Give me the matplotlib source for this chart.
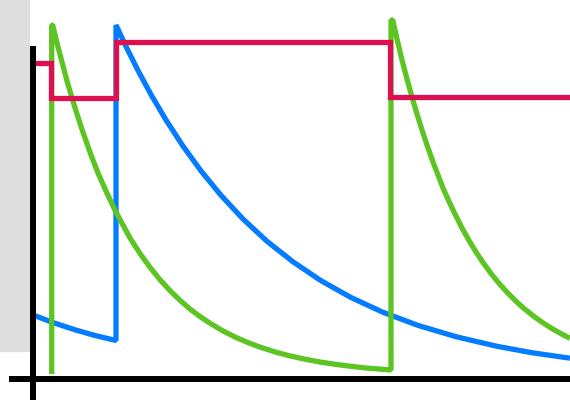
import matplotlib
matplotlib.use('Agg')
import matplotlib.pyplot as plt
from matplotlib.patches import Rectangle

# values (x: time units, y: level units)
blue_x = [0, 2.1, 4.2, 6.2, 8.3, 8.3, 9.3, 10.5, 11.8, 13.3, 15.0, 16.8, 18.8, 21.0,
          23.4, 26.0, 28.8, 31.8, 35.0, 38.5, 42.3, 46.4, 50.0, 53.7]
blue_y = [6.4, 5.61, 4.92, 4.35, 3.85, 35.4, 33.25, 30.85, 28.44, 25.9, 23.29, 20.81,
          18.37, 16.0, 13.77, 11.72, 9.83, 8.15, 6.67, 5.36, 4.23, 3.27, 2.61, 2.08]

green_x = [1.87, 1.87, 1.97, 2.4, 2.9, 3.4, 3.87, 4.4, 4.9, 5.8, 6.5, 7.3, 8.2, 9.7,
           10.7, 11.7, 12.7, 13.7, 14.7, 15.7, 16.7, 17.7, 18.9, 20.2, 21.4, 22.7,
           24.2, 25.7, 27.2, 28.7, 30.2, 31.7, 33.2, 35.8,
           35.8, 35.97, 36.4, 36.9, 37.4, 37.87, 38.4, 38.9, 39.4, 40.0, 40.5, 41.0,
           41.6, 42.2, 42.9, 43.6, 44.3, 45.0, 45.8, 46.6, 47.4, 48.3, 49.1, 50.0,
           50.9, 51.8, 52.8, 53.7]
green_y = [0.5, 35.4, 35.4, 33.6, 31.7, 29.8, 28.2, 26.5, 24.96, 22.4, 20.6, 18.8,
           16.87, 14.1, 12.55, 11.17, 9.93, 8.84, 7.87, 7.0, 6.25, 5.58, 4.86, 4.2,
           3.68, 3.19, 2.71, 2.31, 1.98, 1.7, 1.47, 1.28, 1.11, 0.9,
           35.9, 35.9, 34.0, 31.9, 30.0, 28.3, 26.5, 24.9, 23.4, 21.7, 20.4, 19.1,
           17.75, 16.5, 15.1, 13.85, 12.7, 11.65, 10.55, 9.57, 8.68, 7.77, 7.05, 6.33,
           5.68, 5.1, 4.53, 4.07]

red_x = [0, 1.8, 1.8, 8.3, 8.3, 35.7, 35.7, 53.7]
red_y = [31.65, 31.65, 28.15, 28.15, 33.75, 33.75, 28.2, 28.2]

fig = plt.figure(figsize=(5.7, 4.0), dpi=100)
ax = fig.add_axes([0, 0, 1, 1])
ax.set_xlim(-3.3, 53.7)
ax.set_ylim(-2.1, 37.9)

ax.add_patch(Rectangle((-3.3, 2.8), 2.9, 35.1, color='#dedede', zorder=0))

lw = 3.8
ax.plot(blue_x, blue_y, color='#047cff', lw=lw, solid_joinstyle='bevel', solid_capstyle='butt', zorder=2)
ax.plot(green_x, green_y, color='#5cc423', lw=lw, solid_joinstyle='bevel', solid_capstyle='butt', zorder=3)
ax.plot(red_x, red_y, color='#dc0f50', lw=lw, solid_joinstyle='miter', solid_capstyle='butt', zorder=4)

for side in ['top', 'right']:
    ax.spines[side].set_visible(False)
ax.spines['left'].set_position(('data', 0))
ax.spines['bottom'].set_position(('data', 0))
ax.spines['left'].set_bounds(-2.1, 33.0)
ax.spines['bottom'].set_bounds(-2.1, 53.7)
for side in ['left', 'bottom']:
    ax.spines[side].set_linewidth(4.3)
    ax.spines[side].set_color('black')
    ax.spines[side].set_zorder(5)
ax.set_xticks([])
ax.set_yticks([])
ax.patch.set_visible(False)

fig.savefig('out.png', dpi=100)
